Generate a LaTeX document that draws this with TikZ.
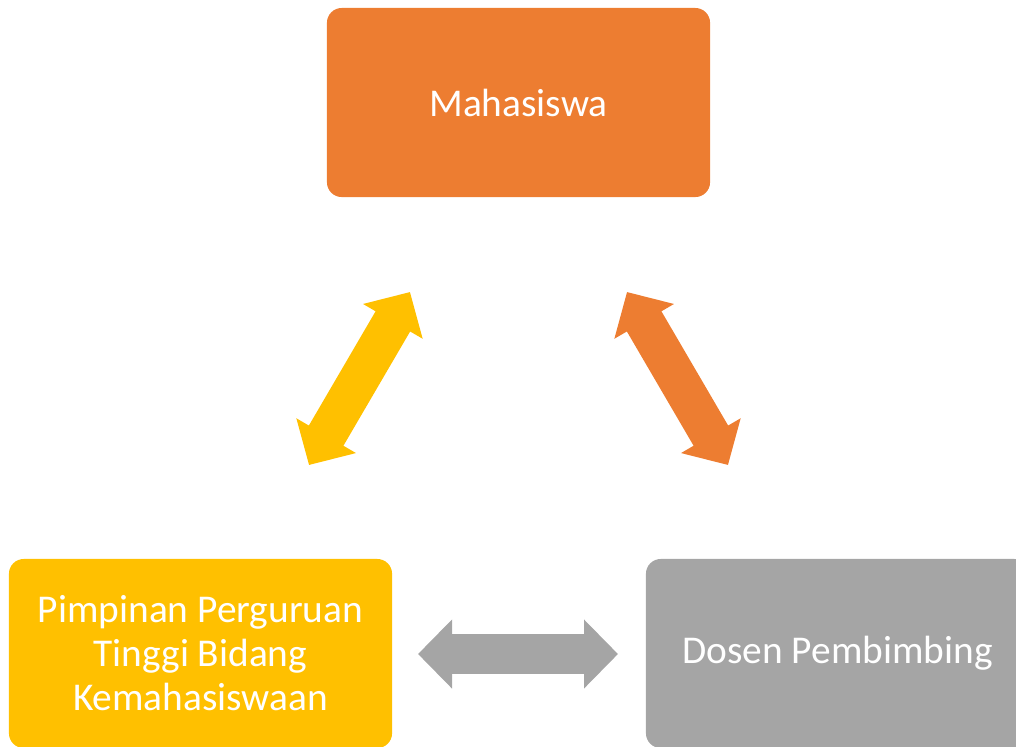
\documentclass[tikz,border=0pt]{standalone}
\usepackage{fontspec}
\setmainfont{Carlito}
\usetikzlibrary{arrows.meta}

\definecolor{oranye}{HTML}{ED7D31}
\definecolor{kuning}{HTML}{FFC000}
\definecolor{abu}{HTML}{A5A5A5}

\tikzset{
  kotak/.style={rounded corners=10.5pt, minimum width=9.575cm, minimum height=4.725cm,
    text=white, align=center, font=\fontsize{28}{31.3}\selectfont, inner sep=0pt},
  panah/.style={line width=1cm, {Triangle[width=1.675cm,length=0.85cm]}-{Triangle[width=1.675cm,length=0.85cm]}}
}

\begin{document}
\begin{tikzpicture}[x=0.025cm, y=-0.025cm]
			%%%%% START %%%%%
			\useasboundingbox (0, 0) rectangle (1016, 746);
			\clip (0, 0) rectangle (1016, 746);
			
			\node[kotak, fill=oranye] (mhs) at (518.5, 102.5) {Mahasiswa};
			\node[kotak, fill=kuning] (pimpinan) at (200.5, 653.5) {Pimpinan Perguruan\\Tinggi Bidang\\Kemahasiswaan};
			\node[kotak, fill=abu] (dosen) at (837.5, 653.5) {Dosen Pembimbing};
			
			\coordinate (ka) at (309, 465);
			\coordinate (kb) at (410, 292);
			\coordinate (oa) at (627, 292);
			\coordinate (ob) at (728, 465);
			\coordinate (aa) at (418, 654);
			\coordinate (ab) at (618, 654);
			
			\draw[panah, kuning] (ka) -- (kb);
			\draw[panah, oranye] (oa) -- (ob);
			\draw[panah, abu] (aa) -- (ab);
			%%%%% END %%%%%
\end{tikzpicture}
\end{document}
